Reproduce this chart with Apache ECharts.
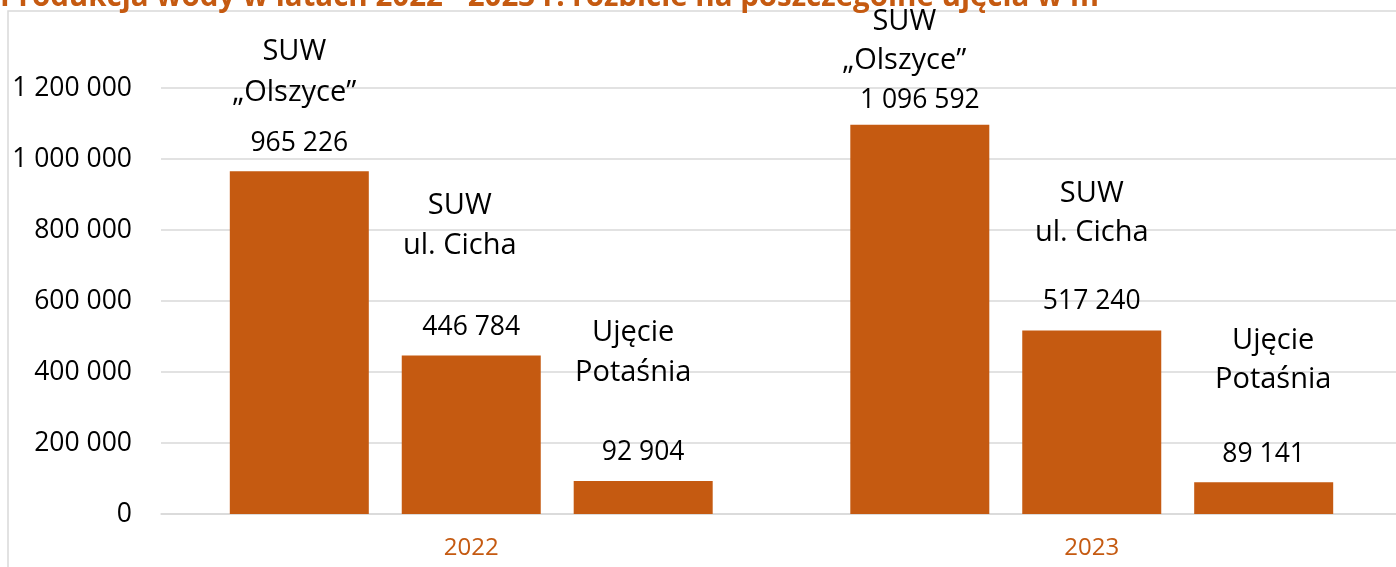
<!DOCTYPE html>
<html>
<head>
<meta charset="utf-8">
<script src="https://cdn.jsdelivr.net/npm/echarts@6/dist/echarts.min.js"></script>
<style>
  html, body { margin: 0; padding: 0; background: #fff; }
  #chart { width: 1396px; height: 567px; }
</style>
</head>
<body>
<div id="chart"></div>
<script>
// ---- data ----
const titleText = 'Produkcja wody w latach 2022 - 2023 r. rozbicie na poszczególne ujęcia w m³';
const categories = ['2022', '2023'];
const seriesNames = ['SUW „Olszyce”', 'SUW ul. Cicha', 'Ujęcie Potaśnia'];
const seriesLabelLines = [['SUW', '„Olszyce”'], ['SUW', 'ul. Cicha'], ['Ujęcie', 'Potaśnia']];
const olszyce = [965226, 1096592];
const cicha = [446784, 517240];
const potasnia = [92904, 89141];
const yMin = 0, yMax = 1200000, yInterval = 200000;

// ---- label placement (style, not data): [dx, linePitch, nameToValueGap, valueAboveBar] ----
const labelPlacement = [
  [[-5, 41, 50, 28.3], [-15.5, 38.5, 40, 24]],
  [[-11.5, 40, 82, 27.5], [0, 39, 69, 28.5]],
  [[-10, 40, 79, 28.9], [9.5, 39, 74, 28.2]]
];

const ORANGE = '#C55A11';
const FONT = 'Open Sans';
const fmt = v => String(v).replace(/\B(?=(\d{3})+(?!\d))/g, ' ');

const seriesValues = [olszyce, cicha, potasnia];

function makeData(si) {
  return seriesValues[si].map((v, ci) => {
    const [dx, pitch, gap, valDist] = labelPlacement[si][ci];
    const H = 2 * gap - pitch;
    const lines = seriesLabelLines[si];
    return {
      value: v,
      label: {
        show: true,
        position: 'top',
        distance: valDist - H / 2,
        formatter: '{n|' + lines[0] + '}\n{n|' + lines[1] + '}\n{v|' + fmt(v) + '}',
        rich: {
          n: {
            fontFamily: FONT, fontSize: 29, color: '#000',
            lineHeight: pitch,
            padding: [0, dx < 0 ? -2 * dx : 0, 0, dx > 0 ? 2 * dx : 0]
          },
          v: {
            fontFamily: FONT, fontSize: 26.5, color: '#000',
            lineHeight: H
          }
        }
      }
    };
  });
}

const chart = echarts.init(document.getElementById('chart'), null, { renderer: 'canvas' });

const option = {
  animation: false,
  backgroundColor: '#fff',
  title: {
    text: titleText,
    left: 0,
    top: -17,
    padding: 0,
    textStyle: { fontFamily: FONT, fontWeight: 'bold', fontSize: 29.5, color: ORANGE }
  },
  graphic: [{
    type: 'rect',
    z: -10,
    shape: { x: 8, y: 11, width: 1500, height: 700 },
    style: { fill: 'none', stroke: '#D9D9D9', lineWidth: 1.5 },
    silent: true
  }],
  grid: { left: 161, width: 1241, top: 88, bottom: 53, containLabel: false, outerBoundsMode: 'none' },
  xAxis: {
    type: 'category',
    data: categories,
    axisLine: { show: true, lineStyle: { color: '#D9D9D9', width: 1.5 } },
    axisTick: { show: false },
    axisLabel: { margin: 22, fontFamily: FONT, fontSize: 24, color: ORANGE }
  },
  yAxis: {
    type: 'value',
    min: yMin, max: yMax, interval: yInterval,
    axisLine: { show: false },
    axisTick: { show: false },
    splitLine: { lineStyle: { color: '#D9D9D9', width: 1.5 } },
    axisLabel: { margin: 29, fontFamily: FONT, fontSize: 26.5, color: '#000', formatter: fmt }
  },
  series: seriesNames.map((name, si) => ({
    type: 'bar',
    name: name,
    data: makeData(si),
    barWidth: 139,
    barGap: '23.7%',
    itemStyle: { color: ORANGE }
  }))
};

chart.setOption(option);
</script>
</body>
</html>
